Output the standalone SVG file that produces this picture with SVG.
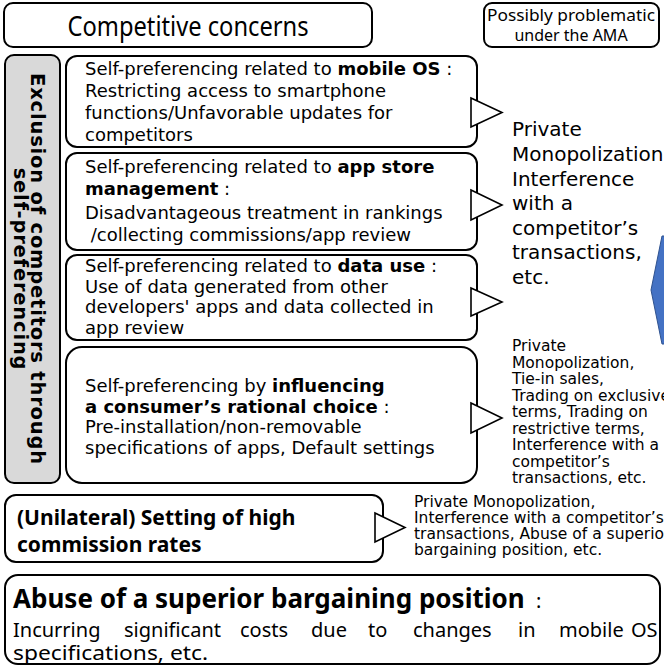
<svg xmlns="http://www.w3.org/2000/svg" width="664" height="667" viewBox="0 0 664 667">
  <style>
    .box { fill: #ffffff; stroke: #000000; stroke-width: 2; }
    .side { fill: #d9d9d9; stroke: #000000; stroke-width: 2; }
    .ptr { fill: #ffffff; stroke: #000000; stroke-width: 1.6; stroke-linejoin: miter; }
    .body { font-family: "DejaVu Sans", Verdana, sans-serif; font-size: 18px; fill: #000000; }
    .law { font-family: "DejaVu Sans", Verdana, sans-serif; fill: #000000; }
    .ui { font-family: "Noto Sans", "Open Sans", sans-serif; fill: #000000; }
    .b { font-weight: bold; }
    .vlabel { font-family: "DejaVu Sans", Verdana, sans-serif; font-weight: bold; font-size: 19.5px; letter-spacing: 0.8px; fill: #000000; }
  </style>

  <!-- title row -->
  <g id="title">
    <rect class="box" x="4" y="3" width="368" height="44" rx="9"/>
    <text class="ui" x="188" y="36" font-size="27" text-anchor="middle" textLength="241" lengthAdjust="spacingAndGlyphs">Competitive concerns</text>
  </g>
  <g id="ama-note">
    <rect class="box" x="484" y="3" width="175" height="44" rx="8"/>
    <text class="ui" x="571" y="21" font-size="16" text-anchor="middle" textLength="168" lengthAdjust="spacingAndGlyphs">Possibly problematic</text>
    <text class="ui" x="571" y="41" font-size="16" text-anchor="middle">under the AMA</text>
  </g>

  <!-- vertical group label -->
  <g id="exclusion">
    <rect class="side" x="5" y="55" width="55" height="428" rx="9"/>
    <g transform="translate(31,269) rotate(90)">
      <text class="vlabel" x="0" y="0" text-anchor="middle">Exclusion of competitors through</text>
      <text class="vlabel" x="0" y="17" text-anchor="middle">self-preferencing</text>
    </g>
  </g>

  <!-- self-preferencing callouts -->
  <g id="mobile-os">
    <rect class="box" x="66" y="56" width="411" height="91" rx="11"/>
    <polygon class="ptr" points="471,98 502,112.5 471,127"/>
    <text class="body" x="85" y="75">Self-preferencing related to <tspan class="b">mobile OS</tspan> :</text>
    <text class="body" x="85" y="97">Restricting access to smartphone</text>
    <text class="body" x="85" y="119">functions/Unfavorable updates for</text>
    <text class="body" x="85" y="141">competitors</text>
  </g>

  <g id="app-store">
    <rect class="box" x="66" y="153" width="411" height="97" rx="11"/>
    <polygon class="ptr" points="471,190 502,205 471,220"/>
    <text class="body" x="85" y="173">Self-preferencing related to <tspan class="b">app store</tspan></text>
    <text class="body" x="85" y="195"><tspan class="b">management</tspan> :</text>
    <text class="body" x="85" y="219">Disadvantageous treatment in rankings</text>
    <text class="body" x="85" y="241" xml:space="preserve"> /collecting commissions/app review</text>
  </g>

  <g id="data-use">
    <rect class="box" x="66" y="255" width="411" height="85" rx="11"/>
    <polygon class="ptr" points="471,288 502,302 471,316"/>
    <text class="body" x="85" y="272">Self-preferencing related to <tspan class="b">data use</tspan> :</text>
    <text class="body" x="85" y="293">Use of data generated from other</text>
    <text class="body" x="85" y="313">developers' apps and data collected in</text>
    <text class="body" x="85" y="334">app review</text>
  </g>

  <g id="rational-choice">
    <rect class="box" x="66" y="347" width="411" height="136" rx="16"/>
    <polygon class="ptr" points="471,403 502,418 471,433"/>
    <text class="body" x="85" y="392">Self-preferencing by <tspan class="b">influencing</tspan></text>
    <text class="body" x="85" y="413"><tspan class="b">a consumer’s rational choice</tspan> :</text>
    <text class="body" x="85" y="433">Pre-installation/non-removable</text>
    <text class="body" x="85" y="454">specifications of apps, Default settings</text>
  </g>

  <!-- applicable provisions -->
  <g id="law-upper">
    <text class="law" font-size="20">
      <tspan x="512" y="136">Private</tspan>
      <tspan x="512" y="161">Monopolization,</tspan>
      <tspan x="512" y="186">Interference</tspan>
      <tspan x="512" y="210">with a</tspan>
      <tspan x="512" y="235">competitor’s</tspan>
      <tspan x="512" y="259">transactions,</tspan>
      <tspan x="512" y="284">etc.</tspan>
    </text>
  </g>

  <g id="law-choice">
    <text class="law" font-size="15.5">
      <tspan x="512" y="351">Private</tspan>
      <tspan x="512" y="367.5">Monopolization,</tspan>
      <tspan x="512" y="384">Tie-in sales,</tspan>
      <tspan x="512" y="400.5">Trading on exclusive</tspan>
      <tspan x="512" y="417">terms, Trading on</tspan>
      <tspan x="512" y="433.5">restrictive terms,</tspan>
      <tspan x="512" y="450">Interference with a</tspan>
      <tspan x="512" y="466.5">competitor’s</tspan>
      <tspan x="512" y="483">transactions, etc.</tspan>
    </text>
  </g>

  <!-- block arrow at the right margin -->
  <g id="bracket-arrow">
    <polygon points="662,236 651,290 662,344 700,344 700,236" fill="#4472c4" stroke="#2f528f" stroke-width="1"/>
  </g>

  <!-- commission rates -->
  <g id="commission">
    <rect class="box" x="5" y="495" width="378" height="67" rx="11"/>
    <polygon class="ptr" points="375,513 405,527.5 375,542"/>
    <text class="ui b" x="17" y="525" font-size="21">(Unilateral) Setting of high</text>
    <text class="ui b" x="17" y="552" font-size="21">commission rates</text>
  </g>
  <g id="law-commission">
    <text class="law" font-size="15.5">
      <tspan x="414" y="507">Private Monopolization,</tspan>
      <tspan x="414" y="523">Interference with a competitor’s</tspan>
      <tspan x="414" y="539">transactions, Abuse of a superior</tspan>
      <tspan x="414" y="555">bargaining position, etc.</tspan>
    </text>
  </g>

  <!-- superior bargaining position -->
  <g id="abuse">
    <rect class="box" x="5" y="575" width="655" height="89" rx="13"/>
    <text class="ui" y="608" font-size="26"><tspan class="b" x="13">Abuse of a superior bargaining position</tspan><tspan x="536" font-size="20">:</tspan></text>
    <text class="ui" y="637" font-size="20">
      <tspan x="13">Incurring</tspan>
      <tspan x="124">significant</tspan>
      <tspan x="240">costs</tspan>
      <tspan x="311">due</tspan>
      <tspan x="368">to</tspan>
      <tspan x="413">changes</tspan>
      <tspan x="518">in</tspan>
      <tspan x="559">mobile</tspan>
      <tspan x="631">OS</tspan>
    </text>
    <text class="ui" x="13" y="660" font-size="20" textLength="195" lengthAdjust="spacingAndGlyphs">specifications, etc.</text>
  </g>
</svg>
